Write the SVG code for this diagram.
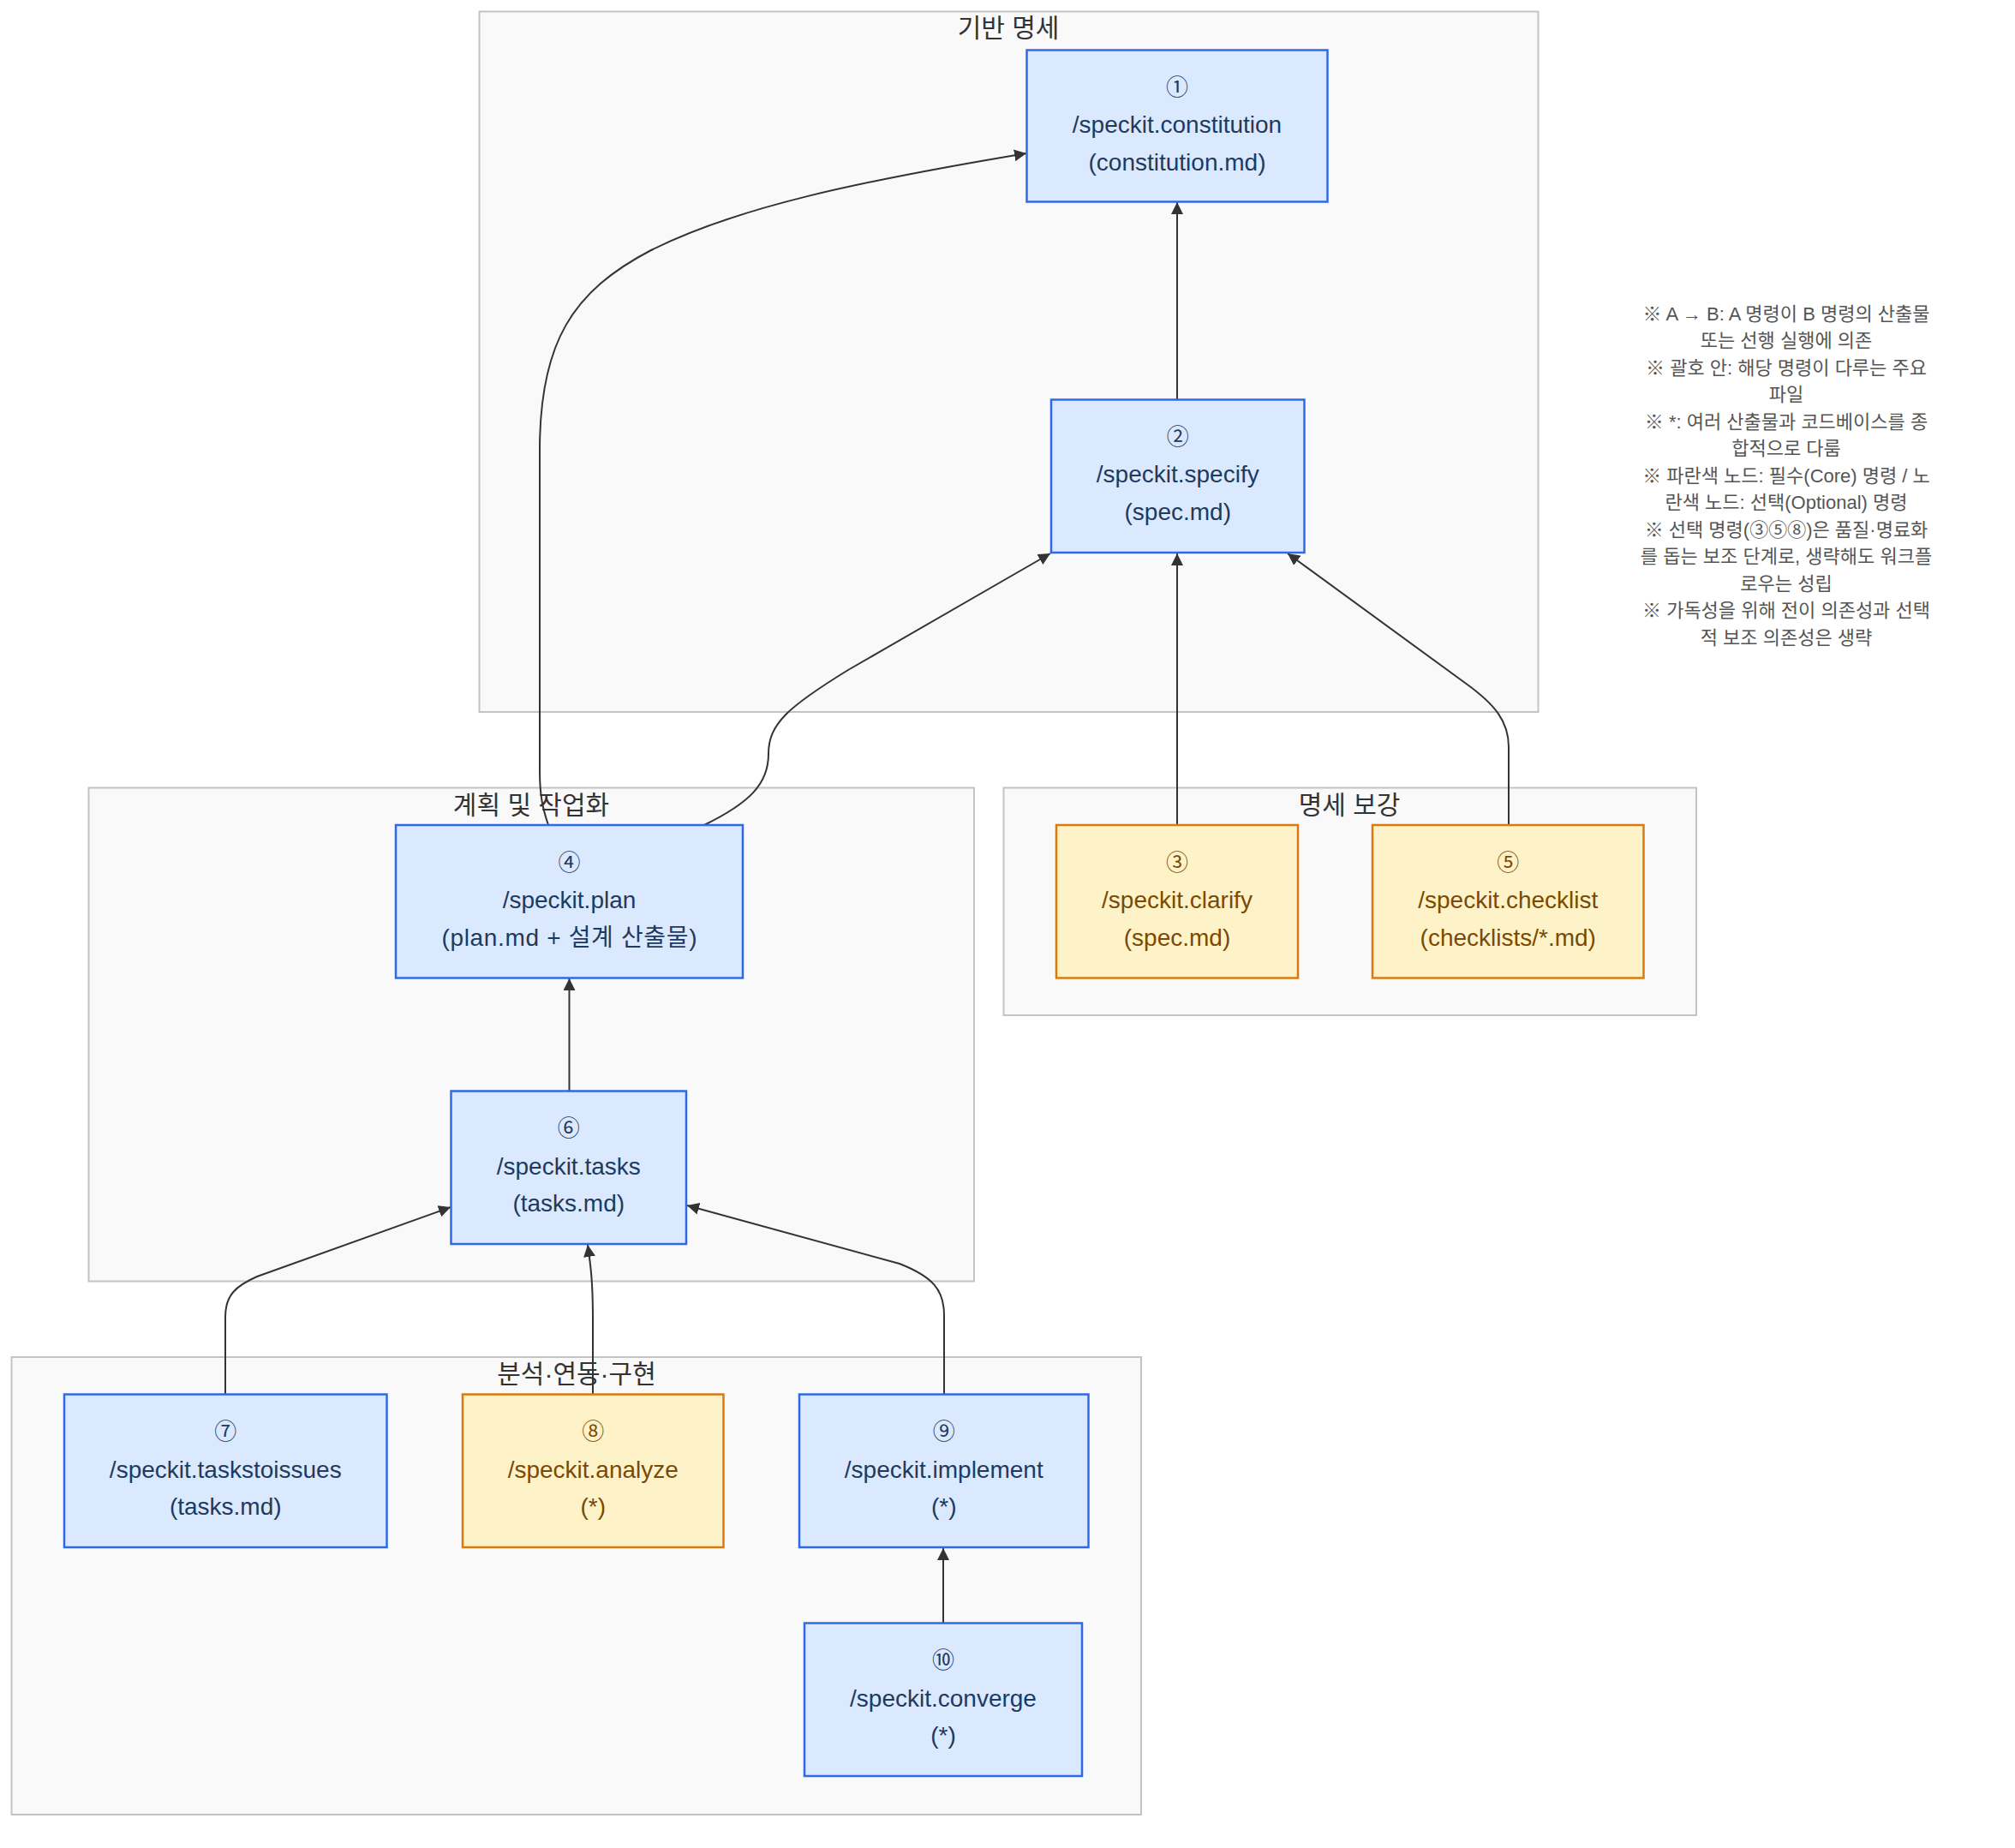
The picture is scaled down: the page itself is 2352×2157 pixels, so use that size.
<svg xmlns="http://www.w3.org/2000/svg" width="2352" height="2157" viewBox="0 0 2352 2157">
<defs>
<style>
text{font-family:"Liberation Sans",Arial,"Noto Sans CJK KR",sans-serif;}
.cluster rect{fill:#f9f9f9;stroke:#c3c3c3;stroke-width:2;}
.cluster text{font-size:30px;fill:#333;text-anchor:middle;dominant-baseline:central;}
.core rect{fill:#dbe9fe;stroke:#2f6ae6;stroke-width:2.5;}
.core text{fill:#1e3a5f;}
.opt rect{fill:#fef3c8;stroke:#d97a10;stroke-width:2.5;}
.opt text{fill:#7a4a04;}
.node text{font-size:28px;text-anchor:middle;dominant-baseline:central;}
.node text.num{font-size:26px;}
.edge{fill:none;stroke:#333;stroke-width:2;marker-end:url(#arrow);}
.note text{font-size:22px;fill:#555;text-anchor:middle;dominant-baseline:central;}
</style>
<marker id="arrow" viewBox="0 0 10 10" refX="10" refY="5" markerWidth="14" markerHeight="14" markerUnits="userSpaceOnUse" orient="auto">
<path d="M0,0 L10,5 L0,10 z" fill="#333"/>
</marker>
</defs>
<rect x="0" y="0" width="2352" height="2157" fill="#ffffff"/>

<g id="clusters">
<g id="cluster-base" class="cluster"><rect x="559.5" y="13.5" width="1236" height="817.5"/><text x="1177" y="32">기반 명세</text></g>
<g id="cluster-plan" class="cluster"><rect x="103.5" y="919.5" width="1033.5" height="576"/><text x="620" y="939">계획 및 작업화</text></g>
<g id="cluster-reinforce" class="cluster"><rect x="1171.5" y="919.5" width="808.5" height="265.5"/><text x="1575" y="939">명세 보강</text></g>
<g id="cluster-impl" class="cluster"><rect x="13.5" y="1584" width="1318.5" height="534"/><text x="673" y="1603">분석·연동·구현</text></g>
</g>

<g id="connectors">
<path id="e2-1" class="edge" d="M1374,466 L1374,236"/>
<path id="e4-1" class="edge" d="M640,963 C634,945 630,930 630,900 L630,525 C630,400 668,340 760,292 C860,242 1000,212 1198,179"/>
<path id="e4-2" class="edge" d="M822,963 C875,937 897,915 897,880 C897,845 920,825 990,782 L1226,646"/>
<path id="e3-2" class="edge" d="M1374,963 L1374,646"/>
<path id="e5-2" class="edge" d="M1761,963 L1761,872 C1761,842 1745,822 1710,797 L1503,646"/>
<path id="e6-4" class="edge" d="M664.5,1273 L664.5,1142"/>
<path id="e7-6" class="edge" d="M263,1628 L263,1537 C263,1512 275,1501 300,1490 L526,1409"/>
<path id="e8-6" class="edge" d="M692,1628 L692,1540 C692,1500 690,1480 686,1453"/>
<path id="e9-6" class="edge" d="M1102,1628 L1102,1535 C1102,1505 1088,1490 1050,1475 L802,1407"/>
<path id="e10-9" class="edge" d="M1101,1894 L1101,1807"/>
</g>

<g id="n1" class="node core"><rect x="1198.5" y="58.5" width="351" height="177"/><text class="num" x="1374" y="102">①</text><text x="1374" y="145.5">/speckit.constitution</text><text x="1374" y="189">(constitution.md)</text></g>
<g id="n2" class="node core"><rect x="1227" y="466.5" width="295.5" height="178.5"/><text class="num" x="1374.75" y="510">②</text><text x="1374.75" y="553.5">/speckit.specify</text><text x="1374.75" y="597">(spec.md)</text></g>
<g id="n3" class="node opt"><rect x="1233" y="963" width="282" height="178.5"/><text class="num" x="1374" y="1007">③</text><text x="1374" y="1050">/speckit.clarify</text><text x="1374" y="1094">(spec.md)</text></g>
<g id="n5" class="node opt"><rect x="1602" y="963" width="316.5" height="178.5"/><text class="num" x="1760.25" y="1007">⑤</text><text x="1760.25" y="1050">/speckit.checklist</text><text x="1760.25" y="1094">(checklists/*.md)</text></g>
<g id="n4" class="node core"><rect x="462" y="963" width="405" height="178.5"/><text class="num" x="664.5" y="1007">④</text><text x="664.5" y="1050">/speckit.plan</text><text x="664.5" y="1094" textLength="298" lengthAdjust="spacing">(plan.md + 설계 산출물)</text></g>
<g id="n6" class="node core"><rect x="526.5" y="1273.5" width="274.5" height="178.5"/><text class="num" x="663.75" y="1317">⑥</text><text x="663.75" y="1361">/speckit.tasks</text><text x="663.75" y="1404">(tasks.md)</text></g>
<g id="n7" class="node core"><rect x="75" y="1627.5" width="376.5" height="178.5"/><text class="num" x="263.25" y="1671">⑦</text><text x="263.25" y="1715">/speckit.taskstoissues</text><text x="263.25" y="1758">(tasks.md)</text></g>
<g id="n8" class="node opt"><rect x="540" y="1627.5" width="304.5" height="178.5"/><text class="num" x="692.25" y="1671">⑧</text><text x="692.25" y="1715">/speckit.analyze</text><text x="692.25" y="1758">(*)</text></g>
<g id="n9" class="node core"><rect x="933" y="1627.5" width="337.5" height="178.5"/><text class="num" x="1101.75" y="1671">⑨</text><text x="1101.75" y="1715">/speckit.implement</text><text x="1101.75" y="1758">(*)</text></g>
<g id="n10" class="node core"><rect x="939" y="1894.5" width="324" height="178.5"/><text class="num" x="1101" y="1938">⑩</text><text x="1101" y="1982">/speckit.converge</text><text x="1101" y="2025">(*)</text></g>

<g id="note" class="note">
<text x="2085" y="366">※ A → B: A 명령이 B 명령의 산출물</text>
<text x="2085" y="397.5">또는 선행 실행에 의존</text>
<text x="2085" y="429">※ 괄호 안: 해당 명령이 다루는 주요</text>
<text x="2085" y="460.5">파일</text>
<text x="2085" y="492">※ *: 여러 산출물과 코드베이스를 종</text>
<text x="2085" y="523.5">합적으로 다룸</text>
<text x="2085" y="555">※ 파란색 노드: 필수(Core) 명령 / 노</text>
<text x="2085" y="586.5">란색 노드: 선택(Optional) 명령</text>
<text x="2085" y="618">※ 선택 명령(③⑤⑧)은 품질·명료화</text>
<text x="2085" y="649.5">를 돕는 보조 단계로, 생략해도 워크플</text>
<text x="2085" y="681">로우는 성립</text>
<text x="2085" y="712.5">※ 가독성을 위해 전이 의존성과 선택</text>
<text x="2085" y="744">적 보조 의존성은 생략</text>
</g>
</svg>
